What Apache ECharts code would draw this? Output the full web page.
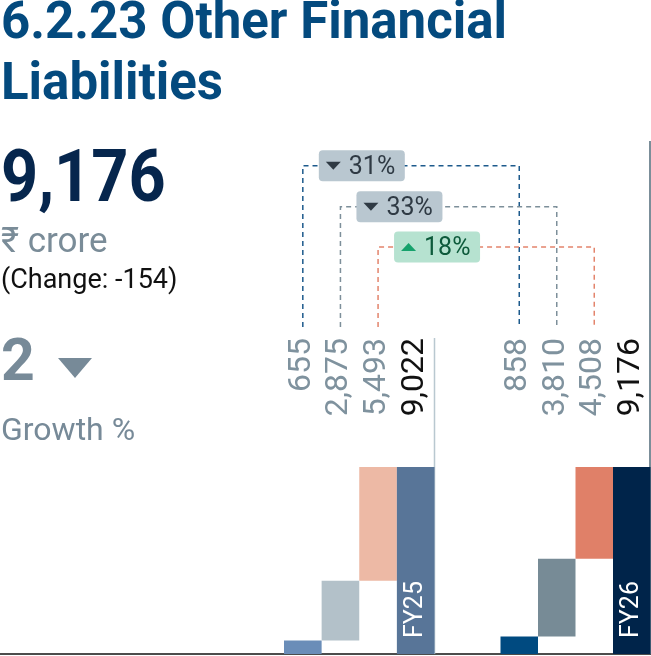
<!DOCTYPE html>
<html>
<head>
<meta charset="utf-8">
<script src="https://cdn.jsdelivr.net/npm/echarts@6/dist/echarts.min.js"></script>
<style>
  html, body { margin: 0; padding: 0; background: #fff; }
  #chart { width: 651px; height: 656px; }
</style>
</head>
<body>
<div id="chart"></div>
<script>
// data
const years = ["FY25", "FY26"];
const parts = ["Part 1", "Part 2", "Part 3", "Total"];
const fy25Values = [655, 2875, 5493, 9022];
const fy26Values = [858, 3810, 4508, 9176];
const changeLabels = ["31%", "33%", "18%"];
const changeDirs = ["down", "down", "up"];

const headline = "9,176";
const unitText = "\u20b9 crore";
const changeText = "(Change: -154)";
const growthValue = "2";

const palettes = [
  ["#6a8db8", "#b3c1c9", "#edb9a5", "#587598"],
  ["#004a80", "#778b96", "#e08068", "#00244a"]
];
const linkColors = ["#1d5a8c", "#7d8f9a", "#e3846c"];
const groups = [fy25Values, fy26Values];
const gridBoxes = [{ left: 284, width: 150.5 }, { left: 500.5, width: 150 }];

const chart = echarts.init(document.getElementById("chart"));

function bases(vals) {
  const b = [];
  let run = 0;
  vals.forEach((v, i) => {
    if (i === vals.length - 1) {
      b.push(0);
    } else {
      b.push(run);
      run += v;
    }
  });
  return b;
}

const series = [];
groups.forEach((vals, g) => {
  // invisible base so each part floats on the running total
  series.push({
    type: "bar",
    xAxisIndex: g,
    yAxisIndex: g,
    stack: "w" + g,
    silent: true,
    barCategoryGap: "0%",
    itemStyle: { color: "transparent" },
    data: bases(vals)
  });
  series.push({
    type: "bar",
    xAxisIndex: g,
    yAxisIndex: g,
    stack: "w" + g,
    barCategoryGap: "0%",
    data: vals.map((v, i) => ({
      value: v,
      itemStyle: { color: palettes[g][i] },
      label: i === vals.length - 1
        ? {
            show: true,
            position: "insideBottom",
            rotate: 90,
            align: "left",
            verticalAlign: "middle",
            distance: 16,
            color: "#fff",
            fontSize: 25,
            fontFamily: "Roboto",
            formatter: years[g]
          }
        : { show: false }
    }))
  });
});

let option = {
  animation: false,
  grid: gridBoxes.map((b) => ({ left: b.left, width: b.width, top: 467, bottom: 2 })),
  xAxis: groups.map((vals, g) => ({
    type: "category",
    gridIndex: g,
    data: parts,
    axisLine: { show: false },
    axisTick: { show: false },
    axisLabel: { show: false }
  })),
  yAxis: groups.map((vals, g) => ({
    type: "value",
    gridIndex: g,
    min: 0,
    max: vals[vals.length - 1],
    show: false
  })),
  series: series
};

chart.setOption(option);

// ---- annotations, placed with the chart's own scales ----
const els = [];
const labelTop = 338;
const linkBottom = 327;
const linkY = [165.7, 206.7, 247];

const px = groups.map((vals, g) =>
  vals.map((v, i) => chart.convertToPixel({ xAxisIndex: g }, i))
);

// value labels (rotated)
groups.forEach((vals, g) => {
  vals.forEach((v, i) => {
    els.push({
      type: "text",
      x: px[g][i] - 1,
      y: labelTop,
      rotation: Math.PI / 2,
      style: {
        text: v.toLocaleString("en-US"),
        font: "32px Roboto",
        fill: i === vals.length - 1 ? "#111111" : "#7f929e",
        textAlign: "right",
        textVerticalAlign: "middle"
      }
    });
  });
});

// dashed links + change badges
changeLabels.forEach((lab, i) => {
  const x1 = px[0][i];
  const x2 = px[1][i];
  const y = linkY[i];
  els.push({
    type: "polyline",
    z: 1,
    shape: { points: [[x1, linkBottom], [x1, y], [x2, y], [x2, linkBottom]] },
    style: { stroke: linkColors[i], lineWidth: 1.5, lineDash: [5, 4], fill: null }
  });
  const up = changeDirs[i] === "up";
  const bx = x1 + 16;
  els.push({
    type: "rect",
    z: 2,
    shape: { x: bx, y: y - 15.5, width: 86, height: 31, r: 4 },
    style: { fill: up ? "#b6e2d0" : "#b9c7d0" }
  });
  els.push({
    type: "polygon",
    z: 3,
    shape: {
      points: up
        ? [[bx + 7, y + 4], [bx + 22, y + 4], [bx + 14.5, y - 4]]
        : [[bx + 7, y - 4], [bx + 22, y - 4], [bx + 14.5, y + 4]]
    },
    style: { fill: up ? "#16a26c" : "#2f3a44" }
  });
  els.push({
    type: "text",
    z: 3,
    x: bx + 30,
    y: y + 2,
    style: {
      text: lab,
      font: "25px Roboto",
      fill: up ? "#0d5a3b" : "#2f3a44",
      textAlign: "left",
      textVerticalAlign: "middle"
    }
  });
});

// frame lines
els.push({ type: "line", shape: { x1: 0, y1: 654, x2: 651, y2: 654 }, style: { stroke: "#111", lineWidth: 1.5 } });
els.push({ type: "line", shape: { x1: 434.5, y1: 338, x2: 434.5, y2: 654 }, style: { stroke: "#b9c8d0", lineWidth: 1.5 } });
els.push({ type: "line", shape: { x1: 650, y1: 141, x2: 650, y2: 654 }, style: { stroke: "#7b8e99", lineWidth: 2 } });

// left-hand texts
function leftText(text, y, font, fill, sx) {
  els.push({
    type: "text",
    x: 1,
    y: y,
    scaleX: sx || 1,
    style: { text: text, font: font, fill: fill, textAlign: "left", textVerticalAlign: "middle" }
  });
}
leftText("6.2.23 Other Financial", 25, "bold 51px Roboto", "#044a7e");
leftText("Liabilities", 86, "bold 51px Roboto", "#044a7e");
leftText(headline, 183, "bold 72px Roboto", "#06264d", 0.9);
leftText(unitText, 243.5, "35px Roboto", "#7a8c98");
leftText(changeText, 281, "27px Roboto", "#111111");
leftText(growthValue, 365, "bold 59px Roboto", "#778a98");
els.push({
  type: "polygon",
  shape: { points: [[58, 358], [92, 358], [75, 378]] },
  style: { fill: "#778a98" }
});
leftText("Growth %", 431.5, "32px Roboto", "#778a98");

chart.setOption({ graphic: els });
</script>
</body>
</html>
